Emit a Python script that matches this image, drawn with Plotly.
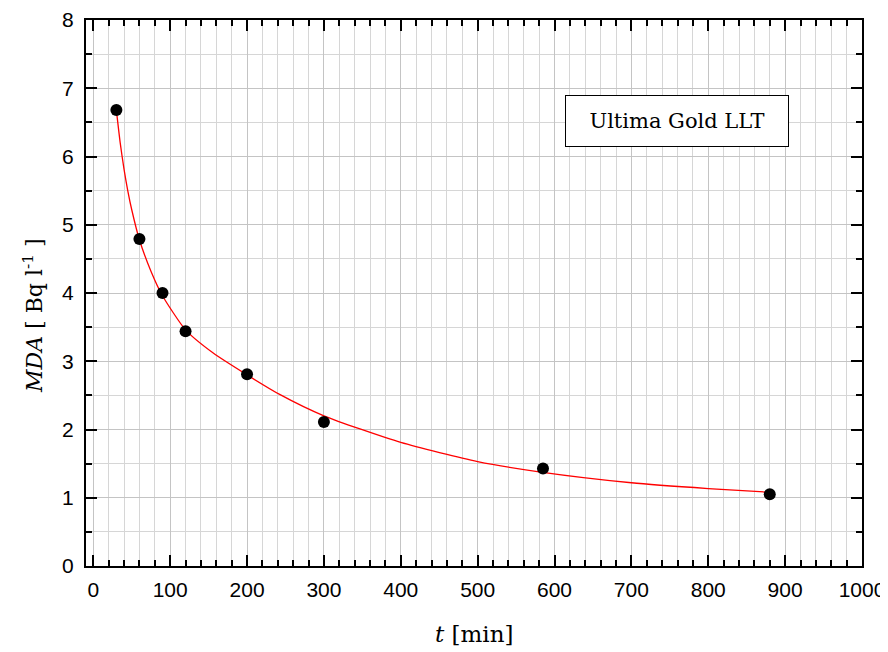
import plotly.graph_objects as go

# measured points
t_min = [30, 60, 90, 120, 200, 300, 585, 880]
mda = [6.68, 4.79, 4.00, 3.44, 2.81, 2.11, 1.43, 1.05]

# fitted curve
fit_t = [30, 35, 40, 45, 50, 60, 75, 90, 120, 156, 200, 243, 300, 400, 500, 580, 700, 800, 880]
fit_mda = [6.68, 6.20, 5.81, 5.49, 5.22, 4.78, 4.32, 3.96, 3.46, 3.12, 2.80, 2.51, 2.20, 1.81,
           1.53, 1.38, 1.22, 1.135, 1.08]

label_text = "Ultima Gold LLT"
x_title = "<i>t</i> [min]"
y_title = "<i>MDA</i> [ Bq l<sup>-1</sup> ]"

fig = go.Figure()
fig.add_trace(go.Scatter(x=fit_t, y=fit_mda, mode="lines",
                         line=dict(color="red", width=1.3, shape="spline", smoothing=0.6),
                         hoverinfo="skip", showlegend=False))
fig.add_trace(go.Scatter(x=t_min, y=mda, mode="markers",
                         marker=dict(color="black", size=12),
                         showlegend=False))

axis_common = dict(
    showline=True, linecolor="black", linewidth=2, mirror="allticks",
    ticks="inside", ticklen=11, tickwidth=2, tickcolor="black",
    showgrid=True, gridcolor="#c4c4c4", gridwidth=1,
    zeroline=False, automargin=False, ticklabeloverflow="allow",
    tickfont=dict(family="Liberation Sans, Arial, sans-serif", size=21, color="black"),
)

fig.update_xaxes(range=[-9.5, 1000], tick0=0, dtick=100, ticklabelstandoff=4,
                 minor=dict(tick0=0, dtick=20, ticks="inside", ticklen=6, tickwidth=2,
                            tickcolor="black", showgrid=True, gridcolor="#d6d6d6", gridwidth=1),
                 **axis_common)
fig.update_yaxes(range=[0, 8], tick0=0, dtick=1, ticklabelstandoff=6,
                 minor=dict(tick0=0, dtick=0.5, ticks="inside", ticklen=6, tickwidth=2,
                            tickcolor="black", showgrid=True, gridcolor="#d6d6d6", gridwidth=1),
                 **axis_common)

fig.add_annotation(x=759, y=6.52, xref="x", yref="y", text=label_text, showarrow=False,
                   font=dict(family="DejaVu Serif, serif", size=21, color="black"),
                   bgcolor="white", bordercolor="black", borderwidth=1, borderpad=1,
                   width=220, height=48, xanchor="center", yanchor="middle")

fig.add_annotation(x=0.5, y=-0.1245, xref="paper", yref="paper", text=x_title, showarrow=False,
                   font=dict(family="DejaVu Serif, serif", size=23, color="black"),
                   xanchor="center", yanchor="middle")
fig.add_annotation(x=0, y=0.458, xref="paper", yref="paper", xshift=-53, text=y_title,
                   showarrow=False, textangle=-90,
                   font=dict(family="DejaVu Serif, serif", size=22, color="black"),
                   xanchor="center", yanchor="middle")

# page body adds an 8px offset, so the figure is sized to fit inside the window
fig.update_layout(width=880, height=642, margin=dict(l=78, r=26, t=12, b=84),
                  paper_bgcolor="white", plot_bgcolor="white")

fig.write_html("out.html")
